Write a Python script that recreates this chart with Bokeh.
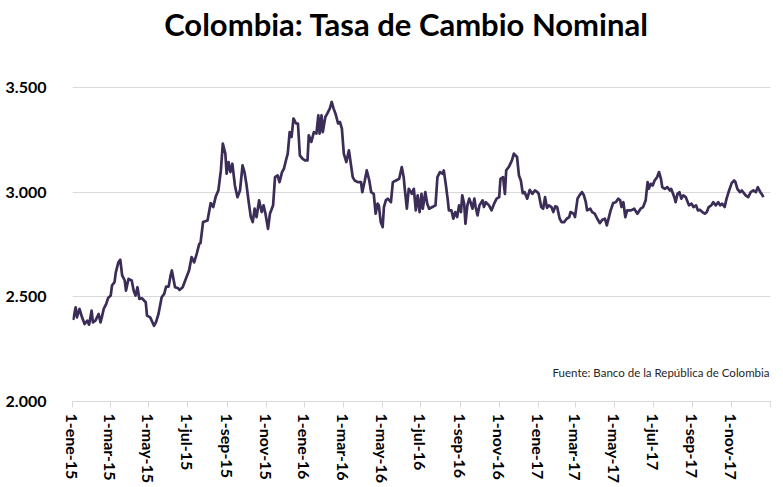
import pandas as pd
from bokeh.plotting import figure
from bokeh.models import (ColumnDataSource, Range1d, FixedTicker, Label,
                          CustomJSTickFormatter)
from bokeh.embed import file_html
from bokeh.resources import INLINE

# ---------------- data ----------------
title_text = "Colombia: Tasa de Cambio Nominal"
source_text = "Fuente: Banco de la República de Colombia"

dates = [
    "2015-01-02", "2015-01-06", "2015-01-08", "2015-01-12", "2015-01-16", "2015-01-20",
    "2015-01-24", "2015-01-27", "2015-01-31", "2015-02-02", "2015-02-06", "2015-02-11",
    "2015-02-14", "2015-02-16", "2015-02-19", "2015-02-23", "2015-02-26", "2015-03-02",
    "2015-03-04", "2015-03-08", "2015-03-10", "2015-03-14", "2015-03-17", "2015-03-20",
    "2015-03-24", "2015-03-26", "2015-03-30", "2015-04-04", "2015-04-07", "2015-04-10",
    "2015-04-13", "2015-04-16", "2015-04-20", "2015-04-26", "2015-04-28", "2015-05-03",
    "2015-05-09", "2015-05-12", "2015-05-16", "2015-05-21", "2015-05-25", "2015-05-28",
    "2015-06-01", "2015-06-04", "2015-06-06", "2015-06-11", "2015-06-16", "2015-06-18",
    "2015-06-23", "2015-06-28", "2015-07-03", "2015-07-07", "2015-07-11", "2015-07-15",
    "2015-07-19", "2015-07-21", "2015-07-25", "2015-08-01", "2015-08-06", "2015-08-10",
    "2015-08-14", "2015-08-18", "2015-08-22", "2015-08-25", "2015-08-29", "2015-08-31",
    "2015-09-03", "2015-09-06", "2015-09-09", "2015-09-13", "2015-09-17", "2015-09-21",
    "2015-09-25", "2015-09-28", "2015-10-01", "2015-10-05", "2015-10-08", "2015-10-11",
    "2015-10-14", "2015-10-17", "2015-10-21", "2015-10-25", "2015-10-28", "2015-10-31",
    "2015-11-04", "2015-11-07", "2015-11-12", "2015-11-15", "2015-11-19", "2015-11-22",
    "2015-11-26", "2015-11-29", "2015-12-02", "2015-12-05", "2015-12-08", "2015-12-11",
    "2015-12-14", "2015-12-18", "2015-12-21", "2015-12-24", "2015-12-28", "2016-01-01",
    "2016-01-05", "2016-01-07", "2016-01-11", "2016-01-15", "2016-01-19", "2016-01-22",
    "2016-01-24", "2016-01-27", "2016-01-29", "2016-02-02", "2016-02-05", "2016-02-09",
    "2016-02-12", "2016-02-15", "2016-02-18", "2016-02-22", "2016-02-25", "2016-02-28",
    "2016-03-02", "2016-03-06", "2016-03-10", "2016-03-13", "2016-03-16", "2016-03-19",
    "2016-03-24", "2016-03-29", "2016-03-31", "2016-04-04", "2016-04-07", "2016-04-11",
    "2016-04-14", "2016-04-18", "2016-04-21", "2016-04-24", "2016-04-26", "2016-04-29",
    "2016-05-02", "2016-05-04", "2016-05-07", "2016-05-10", "2016-05-15", "2016-05-18",
    "2016-05-23", "2016-05-28", "2016-06-01", "2016-06-04", "2016-06-06", "2016-06-09",
    "2016-06-12", "2016-06-17", "2016-06-20", "2016-06-23", "2016-06-26", "2016-06-29",
    "2016-07-02", "2016-07-04", "2016-07-08", "2016-07-11", "2016-07-14", "2016-07-19",
    "2016-07-24", "2016-07-27", "2016-07-31", "2016-08-04", "2016-08-06", "2016-08-09",
    "2016-08-12", "2016-08-14", "2016-08-18", "2016-08-21", "2016-08-24", "2016-08-27",
    "2016-08-30", "2016-09-02", "2016-09-04", "2016-09-07", "2016-09-09", "2016-09-12",
    "2016-09-15", "2016-09-17", "2016-09-20", "2016-09-23", "2016-09-25", "2016-09-28",
    "2016-10-01", "2016-10-06", "2016-10-08", "2016-10-11", "2016-10-16", "2016-10-20",
    "2016-10-24", "2016-10-28", "2016-11-01", "2016-11-03", "2016-11-07", "2016-11-10",
    "2016-11-12", "2016-11-16", "2016-11-21", "2016-11-24", "2016-11-29", "2016-12-02",
    "2016-12-05", "2016-12-08", "2016-12-11", "2016-12-15", "2016-12-19", "2016-12-23",
    "2016-12-27", "2016-12-31", "2017-01-02", "2017-01-06", "2017-01-09", "2017-01-12",
    "2017-01-15", "2017-01-18", "2017-01-22", "2017-01-25", "2017-01-28", "2017-01-31",
    "2017-02-04", "2017-02-07", "2017-02-11", "2017-02-15", "2017-02-19", "2017-02-21",
    "2017-02-26", "2017-02-28", "2017-03-04", "2017-03-07", "2017-03-11", "2017-03-14",
    "2017-03-17", "2017-03-19", "2017-03-24", "2017-03-27", "2017-03-31", "2017-04-04",
    "2017-04-08", "2017-04-12", "2017-04-16", "2017-04-19", "2017-04-21", "2017-04-25",
    "2017-04-29", "2017-05-03", "2017-05-07", "2017-05-10", "2017-05-12", "2017-05-15",
    "2017-05-18", "2017-05-21", "2017-05-27", "2017-06-01", "2017-06-06", "2017-06-11",
    "2017-06-15", "2017-06-19", "2017-06-22", "2017-06-24", "2017-06-27", "2017-06-30",
    "2017-07-03", "2017-07-07", "2017-07-10", "2017-07-13", "2017-07-15", "2017-07-19",
    "2017-07-23", "2017-07-27", "2017-07-29", "2017-08-03", "2017-08-05", "2017-08-08",
    "2017-08-11", "2017-08-14", "2017-08-17", "2017-08-21", "2017-08-26", "2017-08-30",
    "2017-09-02", "2017-09-06", "2017-09-09", "2017-09-12", "2017-09-16", "2017-09-20",
    "2017-09-23", "2017-09-26", "2017-09-30", "2017-10-03", "2017-10-07", "2017-10-11",
    "2017-10-14", "2017-10-17", "2017-10-21", "2017-10-24", "2017-10-28", "2017-11-01",
    "2017-11-05", "2017-11-07", "2017-11-10", "2017-11-14", "2017-11-17", "2017-11-19",
    "2017-11-23", "2017-11-27", "2017-12-01", "2017-12-05", "2017-12-09", "2017-12-12",
    "2017-12-16", "2017-12-18", "2017-12-21",
]

tasa = [
    2390, 2450, 2402, 2442, 2402, 2370,
    2386, 2367, 2434, 2378, 2386, 2418,
    2378, 2402, 2442, 2466, 2495, 2506,
    2554, 2570, 2617, 2665, 2677, 2602,
    2578, 2530, 2586, 2578, 2530, 2506,
    2546, 2490, 2493, 2474, 2410, 2402,
    2362, 2378, 2418, 2498, 2514, 2549,
    2549, 2602, 2626, 2546, 2541, 2533,
    2546, 2586, 2626, 2690, 2665, 2705,
    2753, 2757, 2857, 2865, 2948, 2929,
    2980, 3008, 3104, 3232, 3184, 3088,
    3144, 3096, 3136, 3032, 2976, 3008,
    3128, 3096, 3040, 2945, 2881, 2857,
    2921, 2881, 2961, 2905, 2937, 2897,
    2825, 2897, 2937, 3072, 3080, 3048,
    3096, 3112, 3150, 3184, 3287, 3264,
    3352, 3328, 3328, 3176, 3160, 3152,
    3152, 3272, 3240, 3287, 3280, 3367,
    3280, 3367, 3287, 3359, 3375, 3399,
    3431, 3399, 3375, 3328, 3335, 3304,
    3184, 3144, 3200, 3136, 3072, 3056,
    3048, 3048, 3000, 3056, 3104, 3056,
    3000, 2992, 2897, 2945, 2937, 2857,
    2833, 2929, 2961, 2969, 2952, 3048,
    3056, 3064, 3120, 3072, 3008, 2921,
    3016, 2992, 3016, 2913, 2985, 2905,
    2992, 2921, 3000, 2945, 2921, 2929,
    2937, 3072, 3096, 3088, 3104, 3040,
    2969, 2913, 2913, 2873, 2905, 2881,
    2937, 2905, 2985, 2945, 2849, 2937,
    2969, 2952, 2921, 2969, 2929, 2889,
    2937, 2961, 2929, 2952, 2937, 2913,
    2945, 2969, 2976, 3064, 3072, 2992,
    3104, 3120, 3152, 3184, 3168, 3080,
    3056, 2995, 3000, 2969, 3011, 2992,
    3008, 3000, 2992, 2929, 2921, 2976,
    2925, 2937, 2929, 2905, 2932, 2929,
    2873, 2857, 2857, 2873, 2881, 2905,
    2897, 2881, 2969, 2985, 3000, 2985,
    2952, 2913, 2921, 2905, 2897, 2873,
    2852, 2868, 2873, 2841, 2865, 2913,
    2948, 2952, 2969, 2961, 2929, 2952,
    2881, 2913, 2913, 2921, 2897, 2921,
    2929, 2961, 3048, 3016, 3040, 3032,
    3056, 3072, 3096, 3064, 3024, 3016,
    3024, 3008, 3016, 2976, 2952, 2992,
    3000, 2969, 2985, 2976, 2937, 2945,
    2929, 2937, 2913, 2916, 2905, 2897,
    2905, 2929, 2937, 2952, 2937, 2952,
    2937, 2945, 2929, 2969, 3008, 3043,
    3056, 3048, 3016, 3000, 3008, 3000,
    2985, 2976, 3000, 3008, 3000, 3024,
    3000, 2992, 2976,
]

tick_dates = [
    "2015-01-01", "2015-03-01", "2015-05-01", "2015-07-01", "2015-09-01", "2015-11-01",
    "2016-01-01", "2016-03-01", "2016-05-01", "2016-07-01", "2016-09-01", "2016-11-01",
    "2017-01-01", "2017-03-01", "2017-05-01", "2017-07-01", "2017-09-01", "2017-11-01",
    "2018-01-01",
]
month_names = ["ene", "feb", "mar", "abr", "may", "jun",
               "jul", "ago", "sep", "oct", "nov", "dic"]

y_ticks = [2000, 2500, 3000, 3500]
y_labels = ["2.000", "2.500", "3.000", "3.500"]

# ---------------- layout ----------------
W, H = 783, 487
LEFT, RIGHT, BOTTOM = 72, 13, 86
GRID_TOP = 87            # pixel row of the top (3.500) gridline
FONT = "Lato"
GRID = "#d9d9d9"
LINE = "#3b2d57"

frame_h = H - BOTTOM
# the plot frame reaches to the top of the canvas so the title can sit inside it;
# the value range is stretched so that 3.500 lands on GRID_TOP
y_span = y_ticks[-1] - y_ticks[0]
y_end = y_ticks[-1] + y_span * GRID_TOP / (frame_h - GRID_TOP)

src = ColumnDataSource(data=dict(fecha=pd.to_datetime(dates), tasa=tasa))

p = figure(width=W, height=H, x_axis_type="datetime",
           output_backend="svg", toolbar_location=None, title_location=None,
           x_range=Range1d(pd.Timestamp(tick_dates[0]), pd.Timestamp(tick_dates[-1])),
           y_range=Range1d(y_ticks[0], y_end),
           min_border_left=LEFT, min_border_right=RIGHT,
           min_border_top=0, min_border_bottom=BOTTOM)
p.outline_line_color = None
p.background_fill_color = "white"
p.border_fill_color = "white"

p.line("fecha", "tasa", source=src, line_color=LINE, line_width=2.7,
       line_join="round")

# x axis
tick_ms = [int(pd.Timestamp(d).value // 10**6) for d in tick_dates]
xa = p.xaxis[0]
xa.ticker = FixedTicker(ticks=tick_ms)
xa.formatter = CustomJSTickFormatter(args=dict(m=month_names, last=tick_ms[-1]), code="""
    if (tick >= last) { return ""; }
    const d = new Date(tick);
    return d.getUTCDate() + "-" + m[d.getUTCMonth()] + "-" + String(d.getUTCFullYear()).slice(2);
""")
xa.major_label_orientation = "vertical"
xa.major_label_text_font = FONT
xa.major_label_text_font_style = "bold"
xa.major_label_text_font_size = "16px"
xa.major_label_text_color = "black"
xa.major_label_standoff = 6
xa.axis_line_color = GRID
xa.axis_line_width = 1
xa.major_tick_line_color = GRID
xa.major_tick_in = 0
xa.major_tick_out = 6
xa.minor_tick_line_color = None

# y axis
ya = p.yaxis[0]
ya.ticker = FixedTicker(ticks=y_ticks)
ya.major_label_overrides = {t: l for t, l in zip(y_ticks, y_labels)}
ya.major_label_text_font = FONT
ya.major_label_text_font_style = "bold"
ya.major_label_text_font_size = "16px"
ya.major_label_text_color = "black"
ya.major_label_standoff = 20
ya.axis_line_color = None
ya.major_tick_line_color = None
ya.minor_tick_line_color = None

p.xgrid.grid_line_color = None
p.ygrid.grid_line_color = GRID
p.ygrid.grid_line_width = 1

# title (screen units are measured from the frame's bottom-left corner)
p.add_layout(Label(x=334, y=frame_h - 23, x_units="screen", y_units="screen",
                   text=title_text, text_font=FONT, text_font_style="bold",
                   text_font_size="31px", text_color="black",
                   text_align="center", text_baseline="middle"))
# source note
p.add_layout(Label(x=697, y=29, x_units="screen", y_units="screen",
                   text=source_text, text_font=FONT,
                   text_font_size="11.5px", text_color="#262626",
                   text_align="right", text_baseline="middle"))

open("out.html", "w").write(file_html(p, INLINE))
